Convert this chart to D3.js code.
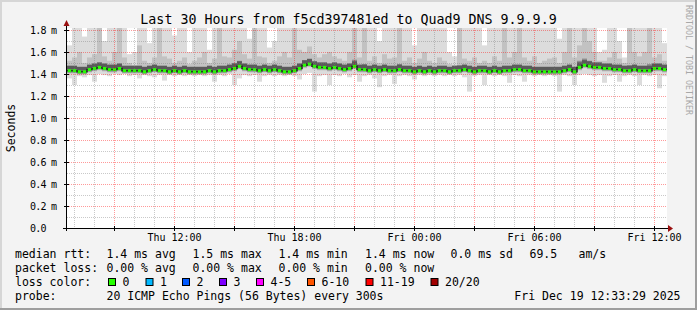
<!DOCTYPE html>
<html>
<head>
<meta charset="utf-8">
<script src="https://cdn.jsdelivr.net/npm/d3@7"></script>
<style>
  body { margin: 0; background: #f3f3f3; }
  svg { display: block; }
  text { font-family: "DejaVu Sans Mono", monospace; fill: #000; }
</style>
</head>
<body>
<div class="canvas"></div>
<script>
// data: 15 minute columns, values in ms
const start = new Date(2025, 11, 18, 6, 39)
const stepMinutes = 15

const median = [
  1.43,1.43,1.42,1.42,1.44,1.45,1.46,1.45,1.44,1.44,
  1.45,1.43,1.43,1.43,1.43,1.42,1.43,1.44,1.43,1.43,
  1.42,1.43,1.42,1.43,1.42,1.42,1.42,1.42,1.43,1.42,
  1.43,1.43,1.44,1.45,1.47,1.45,1.44,1.44,1.43,1.44,
  1.43,1.44,1.43,1.42,1.42,1.43,1.45,1.48,1.49,1.47,
  1.46,1.46,1.45,1.46,1.45,1.44,1.45,1.47,1.44,1.44,
  1.43,1.44,1.43,1.44,1.43,1.43,1.44,1.43,1.43,1.42,
  1.43,1.42,1.43,1.42,1.43,1.43,1.42,1.43,1.43,1.44,
  1.43,1.42,1.43,1.43,1.42,1.43,1.42,1.43,1.43,1.44,
  1.44,1.43,1.43,1.42,1.42,1.42,1.42,1.42,1.42,1.43,
  1.44,1.42,1.46,1.48,1.47,1.46,1.46,1.45,1.45,1.44,
  1.44,1.43,1.43,1.44,1.43,1.43,1.43,1.45,1.45,1.44
]
const high = [
  1.66,1.82,1.82,1.74,1.82,1.82,1.82,1.70,1.82,1.82,
  1.82,1.82,1.58,1.60,1.82,1.82,1.68,1.82,1.82,1.82,
  1.82,1.75,1.82,1.82,1.60,1.82,1.82,1.82,1.62,1.82,
  1.82,1.82,1.82,1.82,1.82,1.82,1.72,1.82,1.82,1.82,
  1.64,1.70,1.82,1.82,1.82,1.82,1.82,1.82,1.82,1.82,
  1.82,1.82,1.82,1.82,1.82,1.82,1.82,1.82,1.82,1.82,
  1.82,1.82,1.70,1.82,1.82,1.82,1.82,1.82,1.82,1.66,
  1.82,1.82,1.82,1.82,1.82,1.82,1.60,1.56,1.82,1.82,
  1.82,1.82,1.82,1.66,1.82,1.82,1.82,1.82,1.82,1.82,
  1.82,1.82,1.82,1.82,1.82,1.82,1.82,1.82,1.72,1.82,
  1.82,1.82,1.82,1.82,1.82,1.82,1.60,1.62,1.82,1.82,
  1.70,1.55,1.82,1.82,1.82,1.82,1.82,1.82,1.82,1.68
]
const upper = [
  1.52,1.55,1.60,1.50,1.55,1.58,1.82,1.56,1.52,1.60,
  1.82,1.55,1.50,1.48,1.66,1.52,1.50,1.55,1.82,1.56,
  1.54,1.50,1.52,1.55,1.49,1.52,1.55,1.60,1.50,1.54,
  1.82,1.56,1.55,1.62,1.70,1.58,1.54,1.82,1.56,1.55,
  1.50,1.52,1.56,1.60,1.55,1.82,1.62,1.60,1.65,1.58,
  1.55,1.58,1.60,1.56,1.54,1.52,1.60,1.82,1.55,1.82,
  1.52,1.56,1.50,1.58,1.54,1.55,1.82,1.52,1.55,1.50,
  1.54,1.60,1.52,1.50,1.55,1.52,1.49,1.48,1.82,1.54,
  1.52,1.55,1.50,1.52,1.50,1.56,1.52,1.82,1.55,1.60,
  1.82,1.55,1.52,1.56,1.50,1.52,1.54,1.55,1.50,1.60,
  1.82,1.55,1.66,1.82,1.70,1.60,1.52,1.52,1.55,1.60,
  1.54,1.50,1.82,1.60,1.56,1.60,1.82,1.55,1.58,1.52
]
const dark = [
  1.46,1.46,1.45,1.46,1.48,1.49,1.50,1.49,1.48,1.47,
  1.49,1.47,1.46,1.46,1.47,1.46,1.46,1.48,1.47,1.47,
  1.45,1.46,1.45,1.46,1.45,1.45,1.46,1.46,1.47,1.46,
  1.47,1.47,1.48,1.50,1.52,1.49,1.47,1.48,1.47,1.48,
  1.46,1.47,1.46,1.46,1.46,1.47,1.49,1.52,1.54,1.51,
  1.50,1.50,1.49,1.50,1.49,1.48,1.49,1.53,1.48,1.49,
  1.47,1.48,1.46,1.48,1.46,1.47,1.49,1.46,1.46,1.45,
  1.46,1.46,1.46,1.45,1.46,1.46,1.45,1.46,1.48,1.47,
  1.46,1.45,1.46,1.46,1.45,1.47,1.45,1.47,1.46,1.48,
  1.48,1.46,1.46,1.45,1.45,1.45,1.46,1.45,1.45,1.47,
  1.48,1.46,1.52,1.54,1.52,1.50,1.49,1.48,1.48,1.48,
  1.47,1.46,1.48,1.48,1.47,1.47,1.49,1.49,1.49,1.47
]
const low = [
  1.36,1.30,1.38,1.37,1.39,1.33,1.40,1.39,1.38,1.40,
  1.39,1.40,1.38,1.39,1.36,1.39,1.38,1.37,1.39,1.34,
  1.39,1.38,1.39,1.38,1.39,1.38,1.39,1.38,1.39,1.33,
  1.39,1.38,1.40,1.30,1.36,1.39,1.38,1.39,1.33,1.38,
  1.39,1.38,1.39,1.38,1.39,1.38,1.35,1.40,1.41,1.24,
  1.38,1.39,1.30,1.39,1.38,1.40,1.37,1.39,1.33,1.38,
  1.39,1.36,1.28,1.38,1.39,1.31,1.38,1.39,1.38,1.35,
  1.39,1.38,1.39,1.38,1.39,1.38,1.39,1.38,1.39,1.37,
  1.24,1.38,1.39,1.30,1.39,1.38,1.39,1.38,1.32,1.39,
  1.38,1.33,1.39,1.38,1.39,1.38,1.39,1.38,1.24,1.39,
  1.38,1.30,1.39,1.40,1.39,1.38,1.39,1.32,1.38,1.39,
  1.33,1.38,1.39,1.38,1.30,1.39,1.38,1.39,1.27,1.38
]
const yTicks = [0, 0.2, 0.4, 0.6, 0.8, 1.0, 1.2, 1.4, 1.6, 1.8]
const lossLabels = ["0", "1", "2", "3", "4-5", "6-10", "11-19", "20/20"]
const lossColors = ["#26ff00", "#00b8ff", "#0059ff", "#7e00ff", "#ff00ff", "#ff5500", "#ff0000", "#a10000"]
const legendRows = [
  {label: "median rtt:", items: ["1.4 ms avg", "1.5 ms max", "1.4 ms min", "1.4 ms now", "0.0 ms sd", "69.5", "am/s"]},
  {label: "packet loss:", items: ["0.00 % avg", "0.00 % max", "0.00 % min", "0.00 % now"]},
]
const itemX = [106.5, 192.5, 278.5, 365, 450.5, 529.5, 578.5]
const boxX = [108, 145.5, 182, 219, 256, 307, 365.5, 430.5]

// settings
const svgWidth = 697
const svgHeight = 310
const plot = {left: 67, right: 667, top: 28, bottom: 228}

const svg = d3.select(".canvas")
  .append("svg")
  .attr("width", svgWidth)
  .attr("height", svgHeight)

// frame
svg.append("rect").attr("width", svgWidth).attr("height", svgHeight).attr("fill", "#f3f3f3")
svg.append("path").attr("d", `M1,${svgHeight} V1 H${svgWidth}`).attr("stroke", "#d6d6d6").attr("stroke-width", 2).attr("fill", "none")
svg.append("path").attr("d", `M0,${svgHeight - 1} H${svgWidth - 1} V0`).attr("stroke", "#9e9e9e").attr("stroke-width", 2).attr("fill", "none")

const end = d3.timeHour.offset(start, 30)
const x = d3.scaleTime().domain([start, end]).range([plot.left, plot.right])
const y = d3.scaleLinear().domain([0, 1.818]).range([plot.bottom, plot.top])

svg.append("rect")
  .attr("x", plot.left).attr("y", plot.top)
  .attr("width", plot.right - plot.left).attr("height", plot.bottom - plot.top)
  .attr("fill", "#fff")

svg.append("clipPath").attr("id", "clip")
  .append("rect")
  .attr("x", plot.left).attr("y", plot.top)
  .attr("width", plot.right - plot.left).attr("height", plot.bottom - plot.top)

const graph = svg.append("g").attr("clip-path", "url(#clip)")

const cols = median.map((m, i) => ({
  t0: d3.timeMinute.offset(start, i * stepMinutes),
  t1: d3.timeMinute.offset(start, (i + 1) * stepMinutes),
  med: m, lo: low[i], hi: high[i], up: upper[i], dk: dark[i]
}))

// smoke, light to dark
graph.selectAll(".smoke1").data(cols).enter().append("rect")
  .attr("x", d => x(d.t0)).attr("width", d => x(d.t1) - x(d.t0))
  .attr("y", d => y(d.hi)).attr("height", d => y(d.lo) - y(d.hi))
  .attr("fill", "#dcdcdc")

graph.selectAll(".smoke2").data(cols).enter().append("rect")
  .attr("x", d => x(d.t0)).attr("width", d => x(d.t1) - x(d.t0))
  .attr("y", d => y(d.up)).attr("height", d => y(d.med) - y(d.up) + 3)
  .attr("fill", "#c2c2c2")

graph.selectAll(".smoke3").data(cols).enter().append("rect")
  .attr("x", d => x(d.t0)).attr("width", d => x(d.t1) - x(d.t0))
  .attr("y", d => y(d.dk)).attr("height", d => y(d.med) - y(d.dk) + 2)
  .attr("fill", "#8c8c8c")

graph.selectAll(".smoke4").data(cols).enter().append("rect")
  .attr("x", d => x(d.t0)).attr("width", d => x(d.t1) - x(d.t0))
  .attr("y", d => y(d.med) - 5).attr("height", 4)
  .attr("fill", "#5a5a5a")

// grid
const minorHours = d3.timeHour.every(1).range(start, end).filter(d => d.getHours() % 3 != 0)
const majorHours = d3.timeHour.every(1).range(start, end).filter(d => d.getHours() % 3 == 0)
const minorY = d3.range(1, 18, 2).map(v => v / 10)

svg.selectAll(".vminor").data(minorHours).enter().append("line")
  .attr("x1", d => Math.round(x(d)) + 0.5).attr("x2", d => Math.round(x(d)) + 0.5)
  .attr("y1", plot.top).attr("y2", plot.bottom)
  .attr("stroke", "rgba(120,120,120,0.4)").attr("stroke-dasharray", "1,1")
svg.selectAll(".hminor").data(minorY).enter().append("line")
  .attr("x1", plot.left).attr("x2", plot.right)
  .attr("y1", d => Math.round(y(d)) + 0.5).attr("y2", d => Math.round(y(d)) + 0.5)
  .attr("stroke", "rgba(120,120,120,0.4)").attr("stroke-dasharray", "1,1")
svg.selectAll(".vmajor").data(majorHours).enter().append("line")
  .attr("x1", d => Math.round(x(d)) + 0.5).attr("x2", d => Math.round(x(d)) + 0.5)
  .attr("y1", plot.top).attr("y2", plot.bottom)
  .attr("stroke", "rgba(255,0,0,0.4)").attr("stroke-dasharray", "1,1")
svg.selectAll(".hmajor").data(yTicks.slice(1)).enter().append("line")
  .attr("x1", plot.left).attr("x2", plot.right)
  .attr("y1", d => Math.round(y(d)) + 0.5).attr("y2", d => Math.round(y(d)) + 0.5)
  .attr("stroke", "rgba(255,0,0,0.4)").attr("stroke-dasharray", "1,1")

// median line
const stepLine = d3.line().curve(d3.curveStepAfter).x(d => x(d[0])).y(d => y(d[1]))
const medPts = cols.map(d => [d.t0, d.med]).concat([[end, median[median.length - 1]]])
graph.append("path").attr("d", stepLine(medPts))
  .attr("fill", "none").attr("stroke", "#202020").attr("stroke-width", 1.5)
graph.selectAll(".med").data(cols).enter().append("line")
  .attr("x1", d => x(d.t0) + 0.8).attr("x2", d => x(d.t1) - 0.8)
  .attr("y1", d => y(d.med)).attr("y2", d => y(d.med))
  .attr("stroke", lossColors[0]).attr("stroke-width", 3)

// axes
const axisColor = "#000"
svg.append("line").attr("x1", 63).attr("x2", 669).attr("y1", plot.bottom + 0.5).attr("y2", plot.bottom + 0.5).attr("stroke", axisColor)
svg.append("line").attr("x1", plot.left - 0.5).attr("x2", plot.left - 0.5).attr("y1", plot.bottom + 3).attr("y2", 24).attr("stroke", axisColor)
svg.append("path").attr("d", "M668,225 L673,228.5 L668,232 Z").attr("fill", "#9a1010")
svg.append("path").attr("d", "M63.5,26 L66.5,20 L69.5,26 Z").attr("fill", "#9a1010")

svg.selectAll(".ytick").data(yTicks).enter().append("line")
  .attr("x1", plot.left - 3).attr("x2", plot.left + 2)
  .attr("y1", d => Math.round(y(d)) + 0.5).attr("y2", d => Math.round(y(d)) + 0.5)
  .attr("stroke", axisColor)
svg.selectAll(".xtick").data(majorHours).enter().append("line")
  .attr("x1", d => Math.round(x(d)) + 0.5).attr("x2", d => Math.round(x(d)) + 0.5)
  .attr("y1", plot.bottom - 2).attr("y2", plot.bottom + 3)
  .attr("stroke", axisColor)

const xAxis = d3.axisBottom(x)
  .tickValues(d3.timeHour.every(6).range(start, end))
  .tickFormat(d3.timeFormat("%a %H:%M"))
  .tickSize(0)
const gx = svg.append("g").attr("transform", `translate(0,${plot.bottom})`).call(xAxis)
gx.select(".domain").remove()
gx.selectAll("text").attr("y", 13).attr("dy", 0)
  .attr("font-family", "DejaVu Sans Mono").attr("font-size", 10).attr("fill", "#000")

const yAxis = d3.axisLeft(y)
  .tickValues(yTicks)
  .tickFormat(d => d == 0 ? "0.0" : d3.format(".1f")(d) + " m")
  .tickSize(0)
const gy = svg.append("g").call(yAxis)
gy.select(".domain").remove()
gy.selectAll("text").attr("x", 30).attr("text-anchor", "start").attr("dy", "0.35em")
  .attr("font-family", "DejaVu Sans Mono").attr("font-size", 10).attr("letter-spacing", -0.8).attr("fill", "#000")

// titles
svg.append("text").attr("x", 348.5).attr("y", 24).attr("text-anchor", "middle")
  .attr("font-size", 13.3).text("Last 30 Hours from f5cd397481ed to Quad9 DNS 9.9.9.9")
svg.append("text").attr("transform", "translate(14.5,128) rotate(-90)").attr("text-anchor", "middle")
  .attr("font-size", 11.5).text("Seconds")
svg.append("text").attr("transform", "translate(686,5) rotate(90)")
  .attr("font-size", 8.3).style("fill", "#a8a8a8").text("RRDTOOL / TOBI OETIKER")

// legend
const legend = svg.append("g").attr("font-size", 11.5)
legendRows.forEach((row, r) => {
  const by = 258 + r * 14
  legend.append("text").attr("x", 15).attr("y", by).text(row.label)
  row.items.forEach((t, j) => legend.append("text").attr("x", itemX[j]).attr("y", by).text(t))
})
legend.append("text").attr("x", 15).attr("y", 286).text("loss color:")
lossLabels.forEach((l, i) => {
  legend.append("rect").attr("x", boxX[i] + 0.5).attr("y", 278.5).attr("width", 7).attr("height", 7)
    .attr("fill", lossColors[i]).attr("stroke", "#000")
  legend.append("text").attr("x", boxX[i] + 14.5).attr("y", 286).text(l)
})
legend.append("text").attr("x", 15).attr("y", 300).text("probe:")
legend.append("text").attr("x", 106.5).attr("y", 300).attr("xml:space", "preserve").text("20 ICMP Echo Pings (56 Bytes) every 300s")
legend.append("text").attr("x", 680.5).attr("y", 300).attr("text-anchor", "end").text("Fri Dec 19 12:33:29 2025")
</script>
</body>
</html>
